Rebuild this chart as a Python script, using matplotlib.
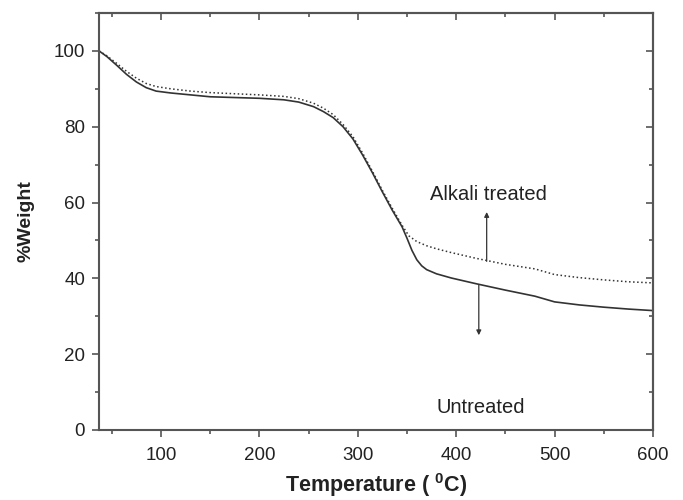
import matplotlib
matplotlib.use("Agg")
import matplotlib.pyplot as plt
from matplotlib.ticker import MultipleLocator

plt.rcParams['font.family'] = ['Liberation Sans', 'DejaVu Sans']
plt.rcParams['mathtext.fontset'] = 'custom'
plt.rcParams['mathtext.rm'] = 'Liberation Sans:bold'
plt.rcParams['mathtext.bf'] = 'Liberation Sans:bold'

# datos
temp_untreated = [37, 45, 55, 65, 75, 85, 95, 110, 130, 150, 175, 200, 225, 240, 255, 265,
                  275, 285, 295, 305, 315, 325, 335, 345, 350, 355, 360, 365, 370, 380, 395,
                  420, 450, 480, 500, 525, 550, 575, 600]
peso_untreated = [100, 98.5, 96.2, 93.8, 91.8, 90.3, 89.4, 88.9, 88.4, 87.9, 87.7, 87.5, 87.1,
                  86.5, 85.3, 84.0, 82.4, 80.0, 76.8, 72.5, 67.8, 62.8, 58.0, 53.6, 50.6,
                  47.4, 44.9, 43.3, 42.3, 41.2, 40.1, 38.6, 36.9, 35.3, 33.8, 33.0, 32.4,
                  31.9, 31.5]

temp_alkali = [37, 45, 55, 65, 75, 85, 95, 110, 130, 150, 175, 200, 225, 240, 255, 265,
               275, 285, 295, 305, 315, 325, 335, 345, 352, 360, 370, 380, 395, 420,
               450, 480, 500, 525, 550, 575, 600]
peso_alkali = [100, 98.7, 96.7, 94.6, 92.8, 91.4, 90.6, 90.0, 89.4, 89.0, 88.7, 88.4, 88.0,
               87.4, 86.2, 84.9, 83.2, 80.6, 77.4, 73.0, 68.2, 63.2, 58.5, 54.0, 51.2,
               49.7, 48.6, 47.8, 46.8, 45.3, 43.7, 42.5, 41.0, 40.2, 39.6, 39.1, 38.8]

color_linea = '#333333'
color_eje = '#555555'
color_texto = '#222222'

fig = plt.figure(figsize=(6.83, 5.0), dpi=100)
ax = fig.add_axes([0.145, 0.14, 0.811, 0.834])

ax.plot(temp_untreated, peso_untreated, '-', color=color_linea, lw=1.2)
ax.plot(temp_alkali, peso_alkali, ':', color=color_linea, lw=1.1)

ax.set_xlim(37, 600)
ax.set_ylim(0, 110)
ax.xaxis.set_major_locator(MultipleLocator(100))
ax.xaxis.set_minor_locator(MultipleLocator(50))
ax.yaxis.set_major_locator(MultipleLocator(20))
ax.yaxis.set_minor_locator(MultipleLocator(10))
ax.tick_params(which='both', direction='out', color=color_eje, width=1.2,
               labelsize=13.5, labelcolor=color_texto)
ax.tick_params(which='major', length=5, pad=5)
ax.tick_params(axis='x', which='major', pad=7)
ax.tick_params(which='minor', length=3)

# ejes de arriba y derecha con ticks hacia dentro
for lado in ['top', 'right']:
    if lado == 'top':
        sec = ax.secondary_xaxis('top')
        sec.xaxis.set_major_locator(MultipleLocator(100))
        sec.xaxis.set_minor_locator(MultipleLocator(50))
    else:
        sec = ax.secondary_yaxis('right')
        sec.yaxis.set_major_locator(MultipleLocator(20))
        sec.yaxis.set_minor_locator(MultipleLocator(10))
    sec.tick_params(which='both', direction='in', color=color_eje, width=1.2,
                    labelleft=False, labelright=False, labeltop=False, labelbottom=False)
    sec.tick_params(which='major', length=5)
    sec.tick_params(which='minor', length=3)
    for s in sec.spines.values():
        s.set_color(color_eje)
        s.set_linewidth(1.5)

for s in ax.spines.values():
    s.set_color(color_eje)
    s.set_linewidth(1.5)

ax.set_xlabel(r'Temperature ( $^{0}$C)', fontsize=15.5, fontweight='bold',
              color=color_texto, labelpad=5)
ax.set_ylabel('%Weight', fontsize=14, fontweight='bold', color=color_texto, labelpad=14)

ax.text(433, 62, 'Alkali treated', fontsize=14.5, ha='center', va='center', color=color_texto)
ax.text(425, 6, 'Untreated', fontsize=14.5, ha='center', va='center', color=color_texto)
ax.annotate('', xy=(431, 57.5), xytext=(431, 44.5),
            arrowprops=dict(arrowstyle='-|>', color=color_linea, lw=0.9,
                            mutation_scale=7, shrinkA=0, shrinkB=0))
ax.annotate('', xy=(423, 25), xytext=(423, 38.2),
            arrowprops=dict(arrowstyle='-|>', color=color_linea, lw=0.9,
                            mutation_scale=7, shrinkA=0, shrinkB=0))

fig.savefig('out.png', dpi=100)
